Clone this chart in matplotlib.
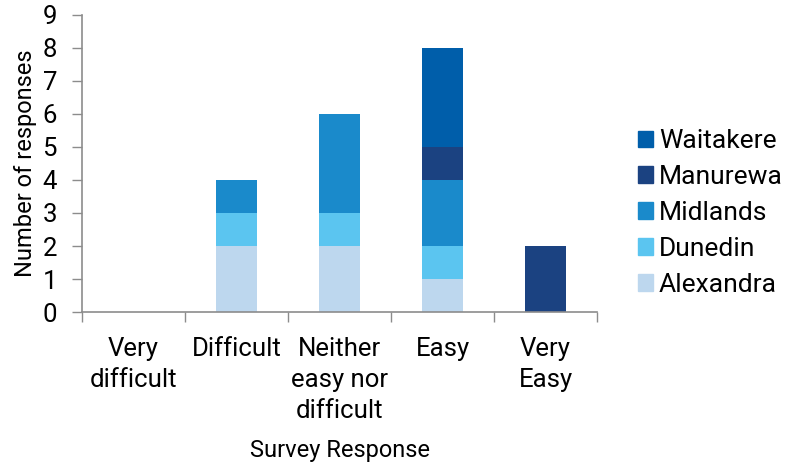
import numpy as np
import matplotlib.pyplot as plt
from matplotlib.patches import Patch

plt.rcParams['font.family'] = ['Roboto', 'DejaVu Sans']

categories = ['Very\ndifficult', 'Difficult', 'Neither\neasy nor\ndifficult', 'Easy', 'Very\nEasy']
sites = ['Alexandra', 'Dunedin', 'Midlands', 'Manurewa', 'Waitakere']
alexandra = [0, 2, 2, 1, 0]
dunedin = [0, 1, 1, 1, 0]
midlands = [0, 1, 3, 2, 0]
manurewa = [0, 0, 0, 1, 2]
waitakere = [0, 0, 0, 3, 0]
yticks = list(range(0, 10))

colors = ['#bdd7ee', '#5bc5f0', '#1a8acb', '#1b4281', '#005eaa']
series = [alexandra, dunedin, midlands, manurewa, waitakere]

fig = plt.figure(figsize=(7.85, 4.63), dpi=100)
ax = fig.add_axes([0.1045, 0.326, 0.656, 0.642])

x = np.arange(len(categories))
bottom = np.zeros(len(categories))
for vals, c, name in zip(series, colors, sites):
    ax.bar(x, vals, width=0.4, bottom=bottom, color=c, edgecolor='none', label=name)
    bottom += np.array(vals)

ax.set_xlim(-0.5, len(categories) - 0.5)
ax.set_ylim(0, 9)
ax.set_yticks(yticks)
ax.tick_params(axis='y', labelsize=18.5, length=7, color='#8c8c8c', width=1, pad=11)

# boundaries get the tick marks, centres get the labels
ax.set_xticks(np.arange(len(categories) + 1) - 0.5)
ax.set_xticklabels([])
ax.set_xticks(x, minor=True)
ax.set_xticklabels(categories, minor=True, fontsize=18.5, linespacing=1.36, va='top')
ax.tick_params(axis='x', which='major', length=7, color='#8c8c8c', width=1)
ax.tick_params(axis='x', which='minor', length=0, pad=18)

for s in ['top', 'right']:
    ax.spines[s].set_visible(False)
for s in ['left', 'bottom']:
    ax.spines[s].set_color('#8c8c8c')
    ax.spines[s].set_linewidth(1.2)

ax.set_ylabel('Number of responses', fontsize=17, labelpad=4)
ax.set_xlabel('Survey Response', fontsize=17, labelpad=12)

handles = [Patch(color=c, label=n) for c, n in zip(colors, sites)][::-1]
fig.legend(handles=handles, loc='center left', bbox_to_anchor=(0.782, 0.54),
           frameon=False, fontsize=19, handlelength=0.6, handleheight=0.6,
           handletextpad=0.2, labelspacing=0.45)

plt.savefig('out.png', dpi=100)
